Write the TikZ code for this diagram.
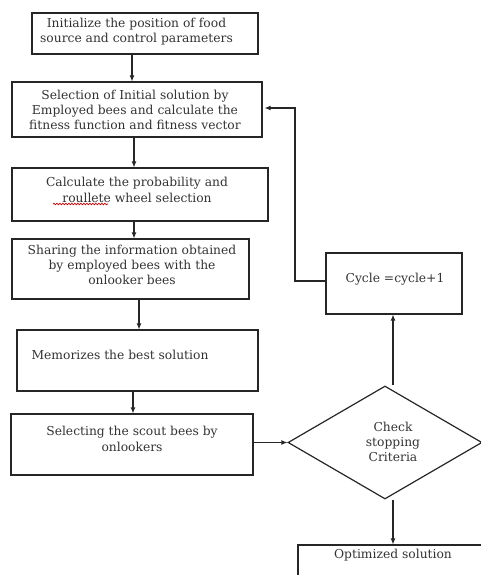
\documentclass[tikz,border=0pt]{standalone}
\usepackage{fontspec}
\setmainfont{DejaVu Serif}
\usetikzlibrary{shapes.geometric,arrows.meta,calc,decorations.pathmorphing}
\begin{document}
\begin{tikzpicture}[x=1pt,y=-1pt,
  box/.style={draw=black!85,line width=1.1pt,rectangle,inner sep=0pt},
  txt/.style={align=center,font=\fontsize{12.3}{15.2}\selectfont,text=black!80,inner sep=0pt},
  arr/.style={draw=black!85,line width=1.1pt,-{Latex[length=6pt,width=5pt]}},
  ln/.style={draw=black!85,line width=1.1pt}]
\useasboundingbox (0,0) rectangle (480,575);
% boxes
\node[box,minimum width=226pt,minimum height=41pt] (b1) at (145,33.5) {};
\node[box,minimum width=250pt,minimum height=55pt] (b2) at (137,109.5) {};
\node[box,minimum width=256pt,minimum height=53pt] (b3) at (140,194.5) {};
\node[box,minimum width=237pt,minimum height=60pt] (b4) at (130.5,269) {};
\node[box,minimum width=241pt,minimum height=61pt] (b5) at (137.5,360.5) {};
\node[box,minimum width=242pt,minimum height=61pt] (b6) at (132,444.5) {};
\node[box,minimum width=136pt,minimum height=61pt] (cyc) at (394,283.5) {};
\node[draw=black!85,line width=1.2pt,diamond,inner sep=0pt,minimum width=194pt,minimum height=113pt,aspect=1.72] (dia) at (385,442.5) {};
\node[box,minimum width=190pt,minimum height=60pt] (opt) at (393,575) {};
% texts
\node[txt] (t1) at (136.5,32) {Initialize the position of food\\source and control parameters};
\node[txt] (t2) at (135,110) {Selection of Initial solution by\\Employed bees and calculate the\\fitness function and fitness vector};
\node[txt] (t3) at (137,190) {Calculate the probability and\\roullete wheel selection};
\node[txt] (t4) at (132,265) {Sharing the information obtained\\by employed bees with the\\onlooker bees};
\node[txt] (t5) at (120,355) {Memorizes the best solution};
\node[txt] (t6) at (132,439) {Selecting the scout bees by\\onlookers};
\node[txt] (tc) at (395,279) {Cycle =cycle+1};
\node[txt] (td) at (393,442) {Check\\stopping\\Criteria};
\node[txt] (to) at (393,555) {Optimized solution};
% spell-check squiggle
\coordinate (sq1) at (53,204);
\coordinate (sq2) at (108,204);
\draw[red!80!black,line width=0.7pt,decorate,decoration={snake,amplitude=0.8pt,segment length=3pt}] (sq1) -- (sq2);
% connectors
\draw[arr] ([xshift=-13pt]b1.south) -- ([xshift=-13pt]b1.south |- b2.north);
\draw[arr] ([xshift=-3pt]b2.south) -- ([xshift=-3pt]b2.south |- b3.north);
\draw[arr] ([xshift=-6pt]b3.south) -- ([xshift=-6pt]b3.south |- b4.north);
\draw[arr] ([xshift=8.5pt]b4.south) -- ([xshift=8.5pt]b4.south |- b5.north);
\draw[arr] ([xshift=-4.5pt]b5.south) -- ([xshift=-4.5pt]b5.south |- b6.north);
\draw[arr] (b6.east |- dia.west) -- (dia.west);
\draw[arr] ([xshift=8pt]dia.north) -- ([xshift=8pt]dia.north |- cyc.south);
\draw[arr] ([xshift=8pt]dia.south) -- ([xshift=8pt]dia.south |- opt.north);
\coordinate (k1) at (295,281);
\coordinate (k2) at (295,108);
\draw[arr] (cyc.west |- k1) -- (k1) -- (k2) -- ([xshift=2pt]b2.east |- k2);
\end{tikzpicture}
\end{document}
